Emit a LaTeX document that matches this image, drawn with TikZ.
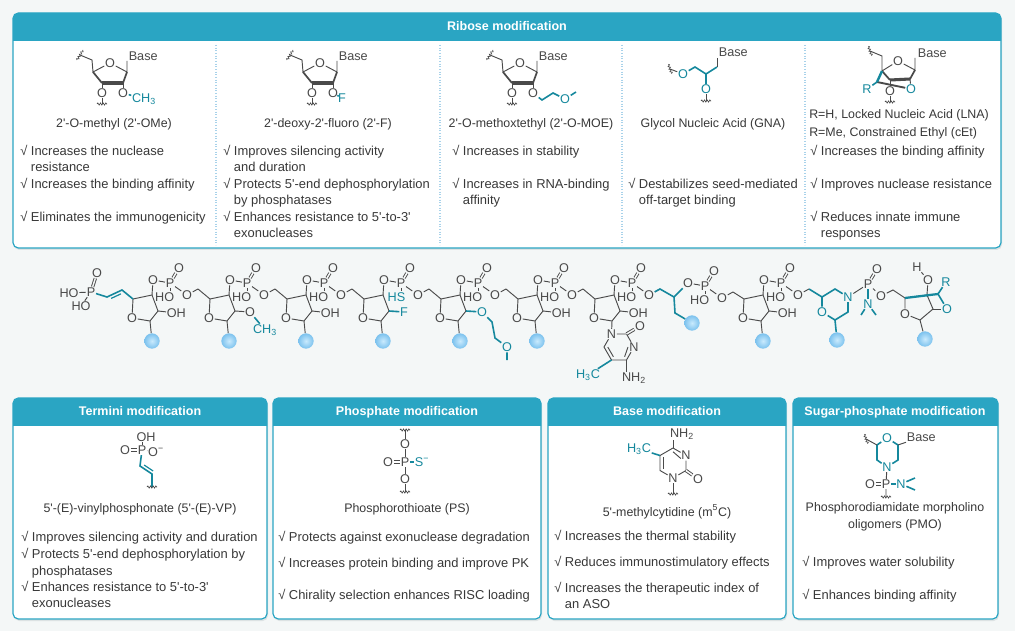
\documentclass[tikz,border=0pt]{standalone}
\usepackage{fontspec}
\setmainfont{Liberation Sans}
\usetikzlibrary{calc,decorations.pathmorphing}

\definecolor{bgc}{HTML}{F4F7F7}
\definecolor{hc}{HTML}{2AA5C3}
\definecolor{tl}{HTML}{15889D}
\definecolor{ink}{HTML}{383838}
\definecolor{chem}{HTML}{4A4A4A}
\definecolor{sepc}{HTML}{A8D2EA}
\definecolor{shadowc}{HTML}{DCE2E3}
\definecolor{bubin}{HTML}{C9EAFD}
\definecolor{bubout}{HTML}{7CC2EE}

\newcommand{\ap}{\textquotesingle}
\newcommand{\ck}{√\ }
\newcommand{\ind}{\phantom{√\ }}
% panel: x1, y1, x2, y2, bottom of header
\newcommand{\modbox}[5]{%
  \fill[shadowc, rounded corners=4pt] (#1+1,#2+2) rectangle (#3+1,#4+2);
  \fill[white, rounded corners=4pt] (#1,#2) rectangle (#3,#4);
  \begin{scope}
    \clip (#1,#2) rectangle (#3,#5);
    \fill[hc, rounded corners=4pt] (#1,#2) rectangle (#3,#4);
  \end{scope}
  \draw[hc, line width=0.9pt, rounded corners=4pt] (#1,#2) rectangle (#3,#4);
}

\tikzset{
  atom/.style={font=\fontsize{9.5}{10}\selectfont, text=chem, inner sep=0.4pt},
  bond/.style={draw=chem, line width=0.7pt},
  tbond/.style={draw=tl, line width=1.2pt},
  dbl/.style={bond, double=#1, double distance=1.1pt},
  dbl/.default=bgc,
  wavy/.style={draw=chem, line width=0.5pt, decorate,
    decoration={snake, amplitude=0.8pt, segment length=2pt}},
  ball/.style={circle, minimum size=11.5pt, inner sep=0pt,
    inner color=bubin, outer color=bubout},
  hd/.style={font=\fontsize{9.4}{11}\selectfont\bfseries, text=white, anchor=base, inner sep=0pt},
  ttl/.style={font=\fontsize{9.3}{11}\selectfont, text=ink, anchor=base, inner sep=0pt},
  txt/.style={font=\fontsize{9.7}{11}\selectfont, text=ink, anchor=base west, inner sep=0pt},
  sep/.style={sepc, line width=0.8pt, dash pattern=on 0.8pt off 1.2pt},
  pics/squig/.style={code={\draw[wavy] (-5,0) -- (5,0);}},
  pics/ribose/.style={code={
    \coordinate (-c4) at (0,0);
    \coordinate (-c3) at (19,-4);
    \coordinate (-c2) at (25,12);
    \coordinate (-c1) at (17,22);
    \node[atom] (-o4) at (-1,19) {O};
    \draw[bond] (-o4) -- (-c4) -- (-c3) -- (-c2) -- (-c1) -- (-o4);
  }},
  pics/phos/.style={code={
    \node[atom] (-p) at (0,0) {P};
    \node[atom] (-o3) at (-17,-3) {O};
    \node[atom] (-od) at (9,-15) {O};
    \node[atom, anchor=east] (-oh) at (5,14) {#1};
    \node[atom] (-o5) at (17,12) {O};
    \coordinate (-c5) at (28,6);
    \draw[bond] (-o3) -- (-p) -- (-o5) -- (-c5);
    \draw[bond] (0,5) -- (0,8.5);
    \draw[dbl] (-p) -- (-od);
  }},
  pics/furan/.style={code={
    \coordinate (-c4) at (0,0);
    \coordinate (-c5) at (-1,-12);
    \coordinate (-s1) at (-13,-17);
    \node[atom] (-o4) at (17,-9) {O};
    \coordinate (-c1) at (34,0);
    \coordinate (-bt) at (34,-11);
    \node[atom, anchor=west] (-base) at (35,-16) {Base};
    \coordinate (-c2) at (30,11);
    \coordinate (-c3) at (9,11);
    \node[atom] (-o3) at (9,21) {O};
    \coordinate (-s2) at (9,32);
    \node[atom] (-o2) at (30,21) {O};
    \draw[bond] (-s1) -- (-c5) -- (-c4) -- (-o4) -- (-c1) -- (-bt);
    \draw[bond, line width=1.3pt] (-c4) -- (-c3);
    \draw[bond, line width=1.3pt] (-c1) -- (-c2);
    \draw[bond, line width=2.3pt] (-c3) -- (-c2);
    \draw[bond] (-c3) -- (-o3) -- (-s2);
    \draw[bond] (-c2) -- (-o2);
    \draw[wavy] (-16,-12) -- (-10,-22);
    \draw[wavy] (4,32) -- (14,32);
  }}
}

\begin{document}
\begin{tikzpicture}[x=0.75pt,y=-0.75pt]
\useasboundingbox (0,0) rectangle (1015,631);
\fill[bgc] (0,0) rectangle (1015,631);

% panels
\modbox{13}{13}{1001}{248}{41}
\modbox{13}{398}{267}{619}{425}
\modbox{273}{398}{541}{619}{425}
\modbox{548}{398}{786}{619}{425}
\modbox{793}{398}{998}{619}{425}
\foreach \x in {216,440,622,805}
  \draw[sep] (\x,45) -- (\x,245);

\node[hd] (hr) at (507,31) {Ribose modification};
\node[hd] (ht) at (140,415) {Termini modification};
\node[hd] (hp) at (407,415) {Phosphate modification};
\node[hd] (hb) at (667,415) {Base modification};
\node[hd] (hs) at (895,415) {Sugar-phosphate modification};

% ribose structures
\pic (f1) at (93,72) {furan};
\pic (f2) at (303,72) {furan};
\pic (f3) at (503,72) {furan};
\node[atom, text=tl] (f1m) at (144,99) {CH\textsubscript{3}};
\draw[tbond] (f1-o2) -- (f1m);
\node[atom, text=tl] (f2f) at (342,98) {F};
\draw[tbond] (f2-o2) -- (f2f);
\coordinate (f3a) at (542,100);
\coordinate (f3b) at (553,93);
\node[atom, text=tl] (f3o) at (565,99) {O};
\coordinate (f3c) at (576,92);
\draw[tbond] (f3-o2) -- (f3a) -- (f3b) -- (f3o) -- (f3c);

% GNA
\coordinate (g4s1) at (670,69);
\node[atom, text=tl] (g4o1) at (683,74) {O};
\coordinate (g4a) at (695,67);
\coordinate (g4b) at (706,74);
\coordinate (g4c) at (717,67);
\coordinate (g4d) at (717,58);
\node[atom, anchor=west] (g4base) at (718,52) {Base};
\node[atom, text=tl] (g4o2) at (706,89) {O};
\coordinate (g4s2) at (706,101);
\draw[bond] (g4s1) -- (g4o1);
\draw[tbond] (g4o1) -- (g4a) -- (g4b) -- (g4c);
\draw[bond] (g4c) -- (g4d);
\draw[tbond] (g4b) -- (g4o2);
\draw[bond] (g4o2) -- (g4s2);
\pic[rotate=-70] at (g4s1) {squig};
\pic at (g4s2) {squig};

% LNA / cEt
\coordinate (ks1) at (870,51);
\coordinate (k5) at (882,56);
\coordinate (k4) at (882,71);
\node[atom] (ko4) at (898,61) {O};
\coordinate (k1) at (915,70);
\coordinate (kbt) at (915,58);
\node[atom, anchor=west] (kbase) at (917,53) {Base};
\coordinate (k2) at (910,79);
\coordinate (k3) at (890,80);
\coordinate (kb) at (877,82);
\node[atom, text=tl] (kr) at (867,89) {R};
\node[atom, text=tl] (ko2) at (911,89) {O};
\node[atom] (ko3) at (890,91) {O};
\coordinate (ks2) at (890,102);
\draw[bond] (ks1) -- (k5) -- (k4) -- (ko4) -- (k1) -- (kbt);
\draw[bond, line width=1.3pt] (k1) -- (k2);
\draw[bond, line width=2.3pt] (k2) -- (k3);
\draw[bond, line width=1.3pt] (k3) -- (k4);
\draw[bond, line width=1.4pt] (kb) -- (ko2);
\draw[bond] (k2) -- (ko2);
\draw[tbond, line width=1.8pt] (k4) -- (kb);
\draw[tbond] (kb) -- (kr);
\draw[bond] (k3) -- (ko3) -- (ks2);
\pic[rotate=-70] at (ks1) {squig};
\pic at (ks2) {squig};

% ribose texts
\node[ttl] (t1) at (114,128) {2\ap-O-methyl (2\ap-OMe)};
\node[ttl] (t2) at (328,128) {2\ap-deoxy-2\ap-fluoro (2\ap-F)};
\node[ttl] (t3) at (531,128) {2\ap-O-methoxtethyl (2\ap-O-MOE)};
\node[ttl] (t4) at (713,128) {Glycol Nucleic Acid (GNA)};
\node[ttl, anchor=base west] (t5a) at (809,119) {R=H, Locked Nucleic Acid (LNA)};
\node[ttl, anchor=base west] (t5b) at (809,137) {R=Me, Constrained Ethyl (cEt)};

\node[txt] (a1) at (20,156) {\ck Increases the nuclease};
\node[txt] (a2) at (20,172) {\ind resistance};
\node[txt] (a3) at (20,189) {\ck Increases the binding affinity};
\node[txt] (a4) at (20,222) {\ck Eliminates the immunogenicity};
\node[txt] (a5) at (223,156) {\ck Improves silencing activity};
\node[txt] (a6) at (223,172) {\ind and duration};
\node[txt] (a7) at (223,189) {\ck Protects 5\ap-end dephosphorylation};
\node[txt] (a8) at (223,205) {\ind by phosphatases};
\node[txt] (a9) at (223,222) {\ck Enhances resistance to 5\ap-to-3\ap};
\node[txt] (a10) at (223,238) {\ind exonucleases};
\node[txt] (a11) at (452,156) {\ck Increases in stability};
\node[txt] (a12) at (452,189) {\ck Increases in RNA-binding};
\node[txt] (a13) at (452,205) {\ind affinity};
\node[txt] (a14) at (628,189) {\ck Destabilizes seed-mediated};
\node[txt] (a15) at (628,205) {\ind off-target binding};
\node[txt] (a16) at (810,156) {\ck Increases the binding affinity};
\node[txt] (a17) at (810,189) {\ck Improves nuclease resistance};
\node[txt] (a18) at (810,222) {\ck Reduces innate immune};
\node[txt] (a19) at (810,238) {\ind responses};

% oligonucleotide chain
\foreach \i/\x in {1/133,2/210,3/287,4/364,5/441,6/518,7/595,9/744}
  \pic (u\i) at (\x,299) {ribose};
\foreach \i/\x in {1/133,2/210,3/287,5/441,6/518,7/595,9/744}
  \pic (q\i) at (\x+37,283) {phos=HO};
\pic (q4) at (401,283) {phos={\color{tl}HS}};
\pic (q8) at (705,286) {phos=HO};
\foreach \a/\b in {1/2,2/3,3/4,4/5,5/6,6/7} {
  \draw[bond] (u\a-c3) -- (q\a-o3);
  \draw[bond] (q\a-c5) -- (u\b-c4);
}
\draw[bond] (u7-c3) -- (q7-o3);
\draw[bond] (u9-c3) -- (q9-o3);
\draw[bond] (q8-c5) -- (u9-c4);
\foreach \i in {1,2,3,4,5,6,9} {
  \node[ball] (b\i) at ($(u\i-c1)+(2,20)$) {};
  \draw[bond] (u\i-c1) -- (b\i);
}
\foreach \i in {1,3,6,7,9} {
  \node[atom, anchor=west] (oh\i) at ($(u\i-c2)+(8,2)$) {OH};
  \draw[bond] (u\i-c2) -- (oh\i);
}

% 5'-vinylphosphonate
\node[atom] (vp) at (91,292) {P};
\node[atom] (vh1) at (69,293) {HO};
\node[atom] (vo) at (97,273) {O};
\node[atom] (vh2) at (81,306) {HO};
\coordinate (v1) at (107,297);
\coordinate (v2) at (122,290);
\draw[bond] (vh1) -- (vp) -- (vh2);
\draw[dbl] (vp) -- (vo);
\draw[tbond] (vp) -- (v1) -- (v2) -- (u1-c4);
\draw[tl, line width=0.9pt] ($(v1)!0.2!(v2)+(1.2,2.8)$) -- ($(v1)!0.85!(v2)+(1.2,2.8)$);

% 2'-OMe, 2'-F, 2'-MOE
\node[atom] (m2o) at ($(u2-c2)+(15,1)$) {O};
\node[atom, text=tl] (m2c) at ($(u2-c2)+(30,19)$) {CH\textsubscript{3}};
\draw[bond] (u2-c2) -- (m2o);
\draw[tbond] (m2o) -- (m2c);
\node[atom, text=tl] (fl4) at ($(u4-c2)+(15,1)$) {F};
\draw[tbond] (u4-c2) -- (fl4);
\node[atom, text=tl] (e5o) at ($(u5-c2)+(16,1)$) {O};
\coordinate (e5a) at ($(u5-c2)+(26,11)$);
\coordinate (e5b) at ($(u5-c2)+(29,27)$);
\node[atom, text=tl] (e5m) at ($(u5-c2)+(41,36)$) {O};
\coordinate (e5c) at ($(u5-c2)+(41,49)$);
\draw[tbond] (u5-c2) -- (e5o) -- (e5a) -- (e5b) -- (e5m) -- (e5c);

% 5-methylcytosine
\coordinate (cz) at (619,347);
\node[atom] (cn1) at (611.5,334) {N};
\coordinate (cc2) at (626.5,334);
\node[atom] (cn3) at (634,347) {N};
\coordinate (cc4) at (626.5,360);
\coordinate (cc5) at (611.5,360);
\coordinate (cc6) at (604,347);
\node[atom] (co) at (640,326) {O};
\node[atom] (cnh) at (634,378) {NH\textsubscript{2}};
\node[atom, text=tl] (cme) at (588,375) {H\textsubscript{3}C};
\draw[bond] (u7-c1) -- (cn1) -- (cc2) -- (cn3) -- (cc4) -- (cc5) -- (cc6) -- (cn1);
\draw[dbl] (cc2) -- (co);
\draw[bond] ($(cc5)!0.25!(cz)$) -- ($(cc6)!0.25!(cz)$);
\draw[bond] ($(cc4)!0.25!(cz)$) -- ($(cn3)!0.4!(cz)$);
\draw[bond] (cc4) -- (cc4 |- cnh.north);
\draw[tbond] (cc5) -- (cme);

% GNA unit
\coordinate (g1) at (674,297);
\coordinate (g2) at (675,313);
\node[ball] (b8) at (692,323) {};
\draw[tbond] (q7-o5) -- (q7-c5) -- (g1) -- (g2) -- (b8);
\draw[tbond] (g1) -- (q8-o3);

% LNA unit coordinates
\coordinate (z4) at (905,298);
\coordinate (z3) at (927,295);
\coordinate (z2) at (933,309);
\coordinate (z1) at (920,320);
\node[atom] (zo4) at (905,314) {O};
\node[atom] (zo3) at (928,280) {O};
\node[atom] (zh) at (917,267) {H};
\coordinate (zb) at (938,294);
\node[atom, text=tl] (zr) at (946,282) {R};
\node[atom, text=tl] (zo2) at (947,309) {O};

% morpholino unit
\coordinate (ma) at (822,297);
\coordinate (mb) at (835,289);
\node[atom, text=tl] (mn) at (848,297) {N};
\coordinate (mc) at (848,312);
\coordinate (md) at (835,320);
\node[atom, text=tl] (mo) at (822,312) {O};
\draw[tbond] (q9-c5) -- (ma) -- (mb) -- (mn) -- (mc) -- (md) -- (mo) -- (ma);
\node[ball] (b10) at (837,340) {};
\draw[tbond] (md) -- (b10);
\node[atom] (mp) at (868,284) {P};
\node[atom] (mpo) at (877,269) {O};
\node[atom, text=tl] (mpn) at (868,304) {N};
\node[atom] (mp5) at (881,296) {O};
\coordinate (mc5) at (893,290);
\coordinate (mme1) at (861,315);
\coordinate (mme2) at (876,315);
\draw[bond] (mn) -- (mp) -- (mp5) -- (mc5) -- (z4);
\draw[dbl] (mp) -- (mpo);
\draw[tbond] (mp) -- (mpn);
\draw[tbond] (mme1) -- (mpn) -- (mme2);

% LNA unit
\draw[bond] (zo4) -- (z4) -- (z3) -- (z2) -- (z1) -- (zo4);
\draw[bond] (z3) -- (zo3) -- (zh);
\draw[tbond, line width=1.7pt] (z4) -- (zb);
\draw[tbond] (zb) -- (zr);
\draw[tbond] (zb) -- (zo2);
\draw[bond] (z2) -- (zo2);
\node[ball] (b11) at (925,339) {};
\draw[bond] (z1) -- (b11);

% termini
\node[atom] (vtp) at (142,450) {P};
\node[atom] (vto) at (125,450) {O};
\node[atom] (vth) at (146,437) {OH};
\node[atom] (vtm) at (156,452) {O\textsuperscript{−}};
\coordinate (vt1) at (140,466);
\coordinate (vt2) at (152,474);
\coordinate (vt3) at (152,487);
\draw[bond] (vtp.north) -- (vtp.north |- vth.south);
\draw[dbl=white] (vto) -- (vtp);
\draw[bond] (vtp) -- (vtm);
\draw[tbond] (vtp) -- (vt1) -- (vt2) -- (vt3);
\draw[tl, line width=0.9pt] ($(vt1)!0.2!(vt2)+(1.7,-2.6)$) -- ($(vt1)!0.95!(vt2)+(1.7,-2.6)$);
\pic at (vt3) {squig};
\node[ttl] (lab1) at (140,512) {5\ap-(E)-vinylphosphonate (5\ap-(E)-VP)};
\node[txt] (c1) at (21,541) {\ck Improves silencing activity and duration};
\node[txt] (c2) at (21,558) {\ck Protects 5\ap-end dephosphorylation by};
\node[txt] (c3) at (21,575) {\ind phosphatases};
\node[txt] (c4) at (21,591) {\ck Enhances resistance to 5\ap-to-3\ap};
\node[txt] (c5) at (21,607) {\ind exonucleases};

% phosphate
\coordinate (st) at (405,430);
\node[atom] (so1) at (405,444) {O};
\node[atom] (sp) at (405,462) {P};
\node[atom] (sod) at (388,462) {O};
\node[atom, text=tl] (ss) at (422,462) {S\textsuperscript{−}};
\node[atom] (so2) at (405,479) {O};
\coordinate (sb) at (405,492);
\draw[bond] (st) -- (so1) -- (sp) -- (so2) -- (sb);
\draw[dbl=white] (sod) -- (sp);
\draw[tbond] (sp) -- (ss);
\pic at (st) {squig};
\pic at (sb) {squig};
\node[ttl] (lab2) at (407,512) {Phosphorothioate (PS)};
\node[txt] (d1) at (278,541) {\ck Protects against exonuclease degradation};
\node[txt] (d2) at (278,567) {\ck Increases protein binding and improve PK};
\node[txt] (d3) at (278,599) {\ck Chirality selection enhances RISC loading};

% base
\coordinate (yz) at (673,463);
\coordinate (y4) at (673,448);
\node[atom] (y3) at (686,455.5) {N};
\coordinate (y2) at (686,470.5);
\node[atom] (y1) at (673,478) {N};
\coordinate (y6) at (660,470.5);
\coordinate (y5) at (660,455.5);
\node[atom] (ynh) at (682,434) {NH\textsubscript{2}};
\node[atom] (yox) at (698,479) {O};
\node[atom, text=tl] (yme) at (639,449) {H\textsubscript{3}C};
\coordinate (ysq) at (673,494);
\draw[bond] (y4) -- (y3) -- (y2) -- (y1) -- (y6) -- (y5) -- (y4);
\draw[bond] ($(y4)!0.25!(yz)$) -- ($(y3)!0.4!(yz)$);
\draw[bond] ($(y6)!0.25!(yz)$) -- ($(y5)!0.25!(yz)$);
\draw[bond] (y4) -- (y4 |- ynh.south);
\draw[dbl=white] (y2) -- (yox);
\draw[tbond] (y5) -- (yme);
\draw[bond] (y1) -- (ysq);
\pic at (ysq) {squig};
\node[ttl] (lab3) at (667,516) {5\ap-methylcytidine (m\textsuperscript{5}C)};
\node[txt] (e1) at (554,540) {\ck Increases the thermal stability};
\node[txt] (e2) at (554,566) {\ck Reduces immunostimulatory effects};
\node[txt] (e3) at (554,592) {\ck Increases the therapeutic index of};
\node[txt] (e4) at (554,608) {\ind an ASO};

% sugar-phosphate
\coordinate (psq) at (866,439);
\coordinate (pa) at (877,445);
\node[atom, text=tl] (po) at (887,438) {O};
\coordinate (pb) at (898,445);
\coordinate (pc) at (898,460);
\node[atom, text=tl] (pn) at (887,467) {N};
\coordinate (pd) at (877,460);
\node[atom, anchor=west] (pbase) at (906,437) {Base};
\draw[tbond] (pa) -- (po) -- (pb) -- (pc) -- (pn) -- (pd) -- (pa);
\draw[bond] (pb) -- (pbase);
\draw[bond] (pa) -- (psq);
\node[atom] (pp) at (886,484) {P};
\node[atom] (ppo) at (870,484) {O};
\node[atom, text=tl] (ppn) at (901,484) {N};
\coordinate (pm1) at (915,478);
\coordinate (pm2) at (915,490);
\coordinate (psq2) at (886,497);
\draw[bond] (pn) -- (pp) -- (psq2);
\draw[dbl=white] (ppo) -- (pp);
\draw[tbond] (pp) -- (ppn);
\draw[tbond] (pm1) -- (ppn) -- (pm2);
\pic[rotate=-70] at (psq) {squig};
\pic at (psq2) {squig};
\node[ttl] (lab4a) at (895,511) {Phosphorodiamidate morpholino};
\node[ttl] (lab4b) at (895,528) {oligomers (PMO)};
\node[txt] (w1) at (802,566) {\ck Improves water solubility};
\node[txt] (w2) at (802,599) {\ck Enhances binding affinity};
\end{tikzpicture}
\end{document}
